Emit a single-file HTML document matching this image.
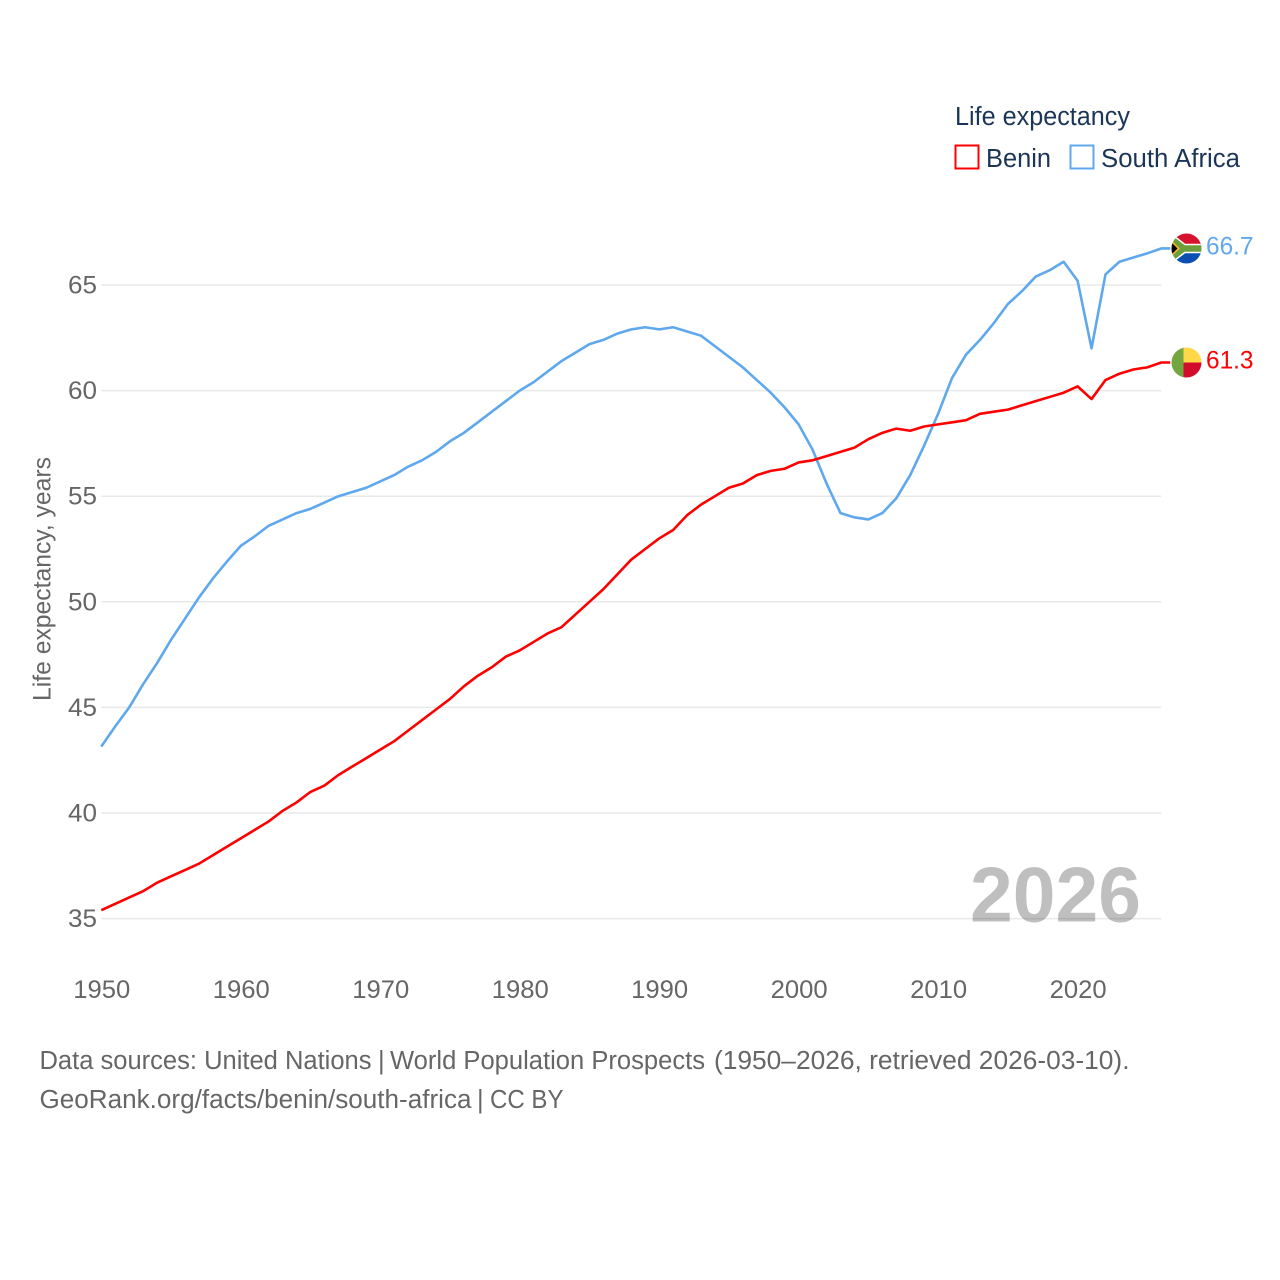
<!DOCTYPE html>
<html lang="en">
<head>
<meta charset="utf-8">
<title>Life expectancy: Benin and South Africa</title>
<style>
html,body{margin:0;padding:0;background:#fff;}
svg{display:block;font-family:"Liberation Sans",sans-serif;}
</style>
</head>
<body>
<svg id="chart" width="1280" height="1280" viewBox="0 0 1280 1280" xmlns="http://www.w3.org/2000/svg">
  <defs>
    <clipPath id="clip-sa"><circle cx="0" cy="0" r="15"/></clipPath>
    <clipPath id="clip-bj"><circle cx="0" cy="0" r="15"/></clipPath>
  </defs>
  <rect width="1280" height="1280" fill="#fff"/>

  <g>
    <text x="955" y="125" font-size="25.5" fill="#1b3557" textLength="175" lengthAdjust="spacingAndGlyphs">Life expectancy</text>
    <g>
      <rect x="955.5" y="145.5" width="23" height="23" fill="#fff" stroke="#ff0000" stroke-width="2"/>
      <text x="986" y="167" font-size="25.5" fill="#1b3557" textLength="65" lengthAdjust="spacingAndGlyphs">Benin</text>
    </g>
    <g>
      <rect x="1070.5" y="145.5" width="23" height="23" fill="#fff" stroke="#5fa8ee" stroke-width="2"/>
      <text x="1101" y="167" font-size="25.5" fill="#1b3557" textLength="139" lengthAdjust="spacingAndGlyphs">South Africa</text>
    </g>
  </g>

  <g id="grid"></g>
  <g id="y-ticks"></g>
  <g id="x-ticks"></g>

  <text transform="translate(50.5 701) rotate(-90)" font-size="25" fill="#666" textLength="244" lengthAdjust="spacingAndGlyphs">Life expectancy, years</text>

  <text x="970" y="921.5" font-size="78" font-weight="700" fill="#000" fill-opacity="0.25" textLength="171" lengthAdjust="spacingAndGlyphs">2026</text>

  <g id="series"></g>

  <g id="flag-sa">
    <g clip-path="url(#clip-sa)">
      <rect x="-15" y="-15" width="30" height="15" fill="#d7122f"/>
      <rect x="-15" y="0" width="30" height="15" fill="#0a4fb3"/>
      <path d="M-21,-14 L-3,0 L16,0 M-21,14 L-3,0" fill="none" stroke="#fff" stroke-width="9.5"/>
      <path d="M-21,-14 L-3,0 L16,0 M-21,14 L-3,0" fill="none" stroke="#6c9f3c" stroke-width="6.5"/>
      <path d="M-17,-10 L-6.5,0 L-17,10 Z" fill="#f2b632"/>
      <path d="M-17,-8 L-9,0 L-17,8 Z" fill="#000"/>
    </g>
  </g>
  <g id="flag-bj">
    <g clip-path="url(#clip-bj)">
      <rect x="-15" y="-15" width="12" height="30" fill="#73a63f"/>
      <rect x="-3" y="-15" width="18" height="15" fill="#ffd84a"/>
      <rect x="-3" y="0" width="18" height="15" fill="#d40c2c"/>
    </g>
  </g>

  <g id="end-labels"></g>

  <g font-size="25.5" fill="#666">
    <text x="39.5" y="1069" textLength="332" lengthAdjust="spacingAndGlyphs">Data sources: United Nations</text>
    <text x="378" y="1069">|</text>
    <text x="390" y="1069" textLength="315" lengthAdjust="spacingAndGlyphs">World Population Prospects</text>
    <text x="714" y="1069" textLength="415.5" lengthAdjust="spacingAndGlyphs">(1950–2026, retrieved 2026-03-10).</text>
    <text x="39.5" y="1108" textLength="432" lengthAdjust="spacingAndGlyphs">GeoRank.org/facts/benin/south-africa</text>
    <text x="477" y="1108">|</text>
    <text x="490" y="1108" textLength="73.5" lengthAdjust="spacingAndGlyphs">CC BY</text>
  </g>
</svg>
<script>
const startYear = 1950;
const yTickValues = [35, 40, 45, 50, 55, 60, 65];
const xTickValues = [1950, 1960, 1970, 1980, 1990, 2000, 2010, 2020];
const beninValues = [
  35.4,35.7,36.0,36.3,36.7,37.0,37.3,37.6,38.0,38.4,
  38.8,39.2,39.6,40.1,40.5,41.0,41.3,41.8,42.2,42.6,
  43.0,43.4,43.9,44.4,44.9,45.4,46.0,46.5,46.9,47.4,
  47.7,48.1,48.5,48.8,49.4,50.0,50.6,51.3,52.0,52.5,
  53.0,53.4,54.1,54.6,55.0,55.4,55.6,56.0,56.2,56.3,
  56.6,56.7,56.9,57.1,57.3,57.7,58.0,58.2,58.1,58.3,
  58.4,58.5,58.6,58.9,59.0,59.1,59.3,59.5,59.7,59.9,
  60.2,59.6,60.5,60.8,61.0,61.1,61.33
];
const southAfricaValues = [
  43.15,44.1,45.0,46.1,47.1,48.2,49.2,50.2,51.1,51.9,
  52.65,53.1,53.6,53.9,54.2,54.4,54.7,55.0,55.2,55.4,
  55.7,56.0,56.4,56.7,57.1,57.6,58.0,58.5,59.0,59.5,
  60.0,60.4,60.9,61.4,61.8,62.2,62.4,62.7,62.9,63.0,
  62.9,63.0,62.8,62.6,62.1,61.6,61.1,60.5,59.9,59.2,
  58.4,57.2,55.6,54.2,54.0,53.9,54.2,54.9,56.0,57.4,
  58.9,60.6,61.7,62.4,63.2,64.1,64.7,65.4,65.7,66.1,
  65.2,62.0,65.5,66.1,66.3,66.5,66.73
];

const SVG_NS = 'http://www.w3.org/2000/svg';
function xScale(year) { return 101.3 + (year - 1950) * 13.947; }
function yScale(v) { return 918.6 - (v - 35) * 21.12; }
function make(tag, attrs, parent, text) {
  const el = document.createElementNS(SVG_NS, tag);
  for (const k in attrs) el.setAttribute(k, attrs[k]);
  if (text !== undefined) el.textContent = text;
  parent.appendChild(el);
  return el;
}
const gridGroup = document.getElementById('grid');
const yTickGroup = document.getElementById('y-ticks');
const xTickGroup = document.getElementById('x-ticks');
const seriesGroup = document.getElementById('series');
const labelGroup = document.getElementById('end-labels');

yTickValues.forEach(function (v) {
  const line = make('line', {x1: xScale(1950), x2: xScale(2026), y1: yScale(v), y2: yScale(v), stroke: '#e9e9e9', 'stroke-width': 1.5}, gridGroup);
  
  
  const label = make('text', {x: 97, y: yScale(v) + 8.5, 'text-anchor': 'end', 'font-size': 25, fill: '#666', textLength: 29, lengthAdjust: 'spacingAndGlyphs'}, yTickGroup, String(v));
  
  
});

xTickValues.forEach(function (year) {
  const label = make('text', {x: xScale(year) - 28, y: 998, 'font-size': 25, fill: '#666', textLength: 57, lengthAdjust: 'spacingAndGlyphs'}, xTickGroup, String(year));
  
  
});

function drawSeries(values, color, name) {
  const pts = values.map(function (v, i) { return xScale(startYear + i).toFixed(2) + ',' + yScale(v).toFixed(2); });
  const lastY = yScale(values[values.length - 1]);
  pts.push((xScale(startYear + values.length - 1) + 9).toFixed(2) + ',' + lastY.toFixed(2));
  const line = make('polyline', {points: pts.join(' '), fill: 'none', stroke: color, 'stroke-width': 2.6, 'stroke-linejoin': 'round'}, seriesGroup);
  
  
  const label = make('text', {x: 1206, y: lastY + 6, 'font-size': 25, fill: color, textLength: 47.5, lengthAdjust: 'spacingAndGlyphs'}, labelGroup, values[values.length - 1].toFixed(1));
  
  
  return lastY;
}
const saY = drawSeries(southAfricaValues, '#5fa8ee', 'south-africa');
const bjY = drawSeries(beninValues, '#ff0000', 'benin');
document.getElementById('flag-sa').setAttribute('transform', 'translate(1186.5 ' + saY + ')');
document.getElementById('flag-bj').setAttribute('transform', 'translate(1186.5 ' + bjY + ')');
</script>
</body>
</html>
